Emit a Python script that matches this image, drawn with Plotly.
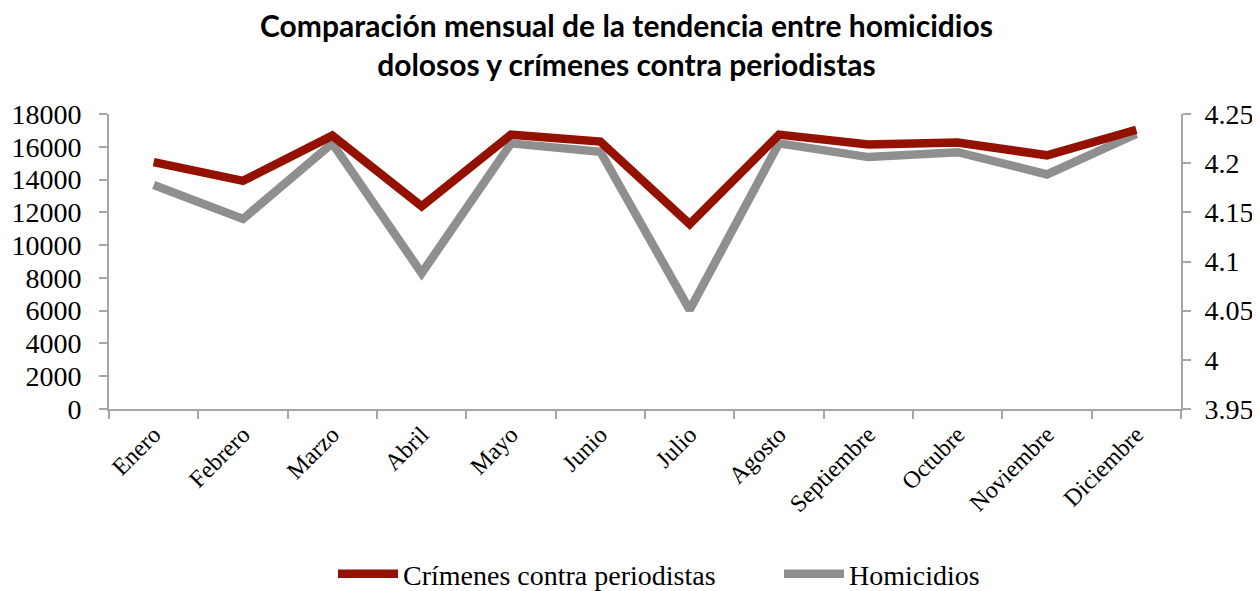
import plotly.graph_objects as go

meses = ["Enero", "Febrero", "Marzo", "Abril", "Mayo", "Junio", "Julio",
         "Agosto", "Septiembre", "Octubre", "Noviembre", "Diciembre"]
homicidios = [13670, 11600, 16210, 8290, 16210, 15700, 6050, 16210, 15370, 15670, 14310, 16780]
crimenes = [4.201, 4.182, 4.228, 4.156, 4.229, 4.222, 4.138, 4.229, 4.219, 4.221, 4.208, 4.234]

left_ticks = [0, 2000, 4000, 6000, 8000, 10000, 12000, 14000, 16000, 18000]
right_ticks = [3.95, 4.0, 4.05, 4.1, 4.15, 4.2, 4.25]
right_labels = ["3.95", "4", "4.05", "4.1", "4.15", "4.2", "4.25"]

titulo = "Comparación mensual de la tendencia entre homicidios<br>dolosos y crímenes contra periodistas"

RED = "#941100"
GRAY = "#8f8f8f"
AXIS = "#a6a6a6"
SERIF = "Liberation Serif, Times New Roman, serif"
FS = 28

# page body has an 8px margin; the figure is sized/positioned to compensate
W, H = 1252, 583
PL, PR, PT, PB = 101, 79, 106, 182
PW = W - PL - PR

fig = go.Figure()
fig.add_trace(go.Scatter(x=meses, y=homicidios, name="Homicidios", mode="lines",
                         line=dict(color=GRAY, width=8.5), yaxis="y", legend="legend2"))
fig.add_trace(go.Scatter(x=meses, y=crimenes, name="Crímenes contra periodistas", mode="lines",
                         line=dict(color=RED, width=8.5), yaxis="y2", legend="legend"))

fig.add_annotation(text=titulo, x=0.483, xref="paper", y=1.235, yref="paper",
                   xanchor="center", yanchor="middle", showarrow=False,
                   font=dict(family="Lato, Open Sans, sans-serif", size=30, color="black", weight="bold"))

fig.update_layout(
    width=W, height=H,
    paper_bgcolor="white", plot_bgcolor="white",
    margin=dict(l=PL, r=PR, t=PT, b=PB, autoexpand=False),
    font=dict(family=SERIF, size=FS, color="black"),
    showlegend=True,
    legend=dict(orientation="h", x=224 / PW, xanchor="left",
                yref="container", y=(H - 566) / H, yanchor="middle",
                font=dict(family=SERIF, size=FS, color="black"), itemwidth=60),
    legend2=dict(orientation="h", x=670 / PW, xanchor="left",
                 yref="container", y=(H - 566) / H, yanchor="middle",
                 font=dict(family=SERIF, size=FS, color="black"), itemwidth=60),
    xaxis=dict(type="category", range=[-0.5, 11.5], showgrid=False, showline=True,
               linecolor=AXIS, linewidth=2, ticks="outside", tickson="boundaries",
               ticklen=8, tickcolor=AXIS, tickwidth=2, tickangle=-45, automargin=False,
               tickfont=dict(family=SERIF, size=24)),
    yaxis=dict(range=[0, 18000], tickvals=left_ticks, tickformat="d", showgrid=False,
               showline=True, linecolor=AXIS, linewidth=2, ticks="outside", ticklen=8,
               tickcolor=AXIS, tickwidth=2, zeroline=False, automargin=False,
               ticklabelstandoff=12, tickfont=dict(family=SERIF, size=FS)),
    yaxis2=dict(range=[3.95, 4.25], overlaying="y", side="right", tickvals=right_ticks,
                ticktext=right_labels, showgrid=False, showline=True, linecolor=AXIS,
                linewidth=2, ticks="outside", ticklen=8, tickcolor=AXIS, tickwidth=2,
                zeroline=False, automargin=False, ticklabelstandoff=8,
                tickfont=dict(family=SERIF, size=FS)),
)

fig.write_html("out.html")
